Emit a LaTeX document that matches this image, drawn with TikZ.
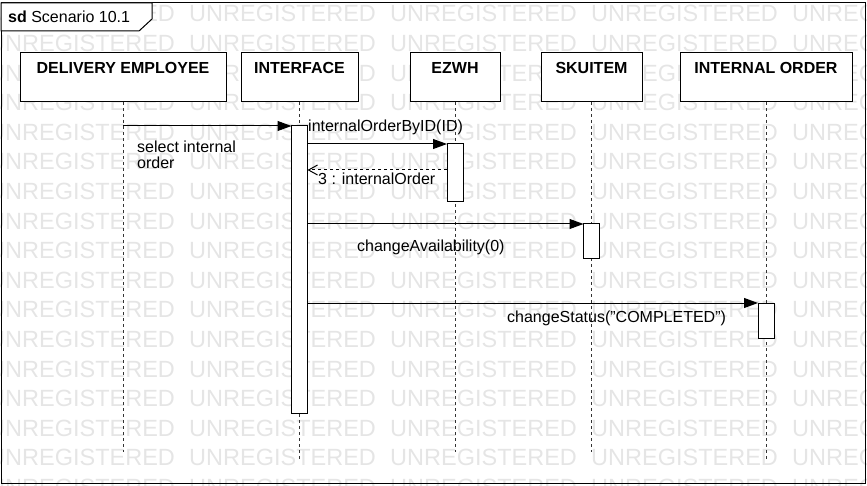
\documentclass[tikz,border=0pt]{standalone}
\usepackage{fontspec}
\setmainfont{Liberation Sans}
\usetikzlibrary{arrows.meta}

\begin{document}
\begin{tikzpicture}[
        x=1pt, y=-1pt,
        font=\fontsize{16}{16}\selectfont,
        wmtext/.style={black!10, anchor=base west, inner sep=0pt,
            font=\fontsize{23.5}{24}\selectfont},
        head/.style={draw=black, fill=white, line width=1pt, anchor=north,
            font=\fontsize{16}{16}\selectfont\bfseries, inner ysep=5pt,
            text height=16pt, text depth=23pt, minimum height=49pt, outer sep=0pt},
        act/.style={draw=black, fill=white, line width=1pt, anchor=north,
            minimum width=16pt, inner sep=0pt, outer sep=0pt},
        life/.style={black!80, line width=1pt, dash pattern=on 3pt off 3pt},
        msg/.style={black, line width=1pt, -{Triangle[length=14pt,width=10pt]}},
        ret/.style={black, line width=1pt, dash pattern=on 3pt off 3pt,
            -{Straight Barb[length=9pt,width=10pt]}},
        lbl/.style={inner sep=0pt, anchor=base west}
    ]
        \useasboundingbox (0,0) rectangle (867,486);

        % Marca de agua
        \begin{scope}
            \clip (0,0) rectangle (867,486);
            \foreach \row in {0,...,16}
                \foreach \col in {0,...,4}
                    \node[wmtext] at ({-12+201*\col}, {21.9+29.6*\row}) {UNREGISTERED};
        \end{scope}

        % Marco sd
        \draw[line width=1pt] (1,3) rectangle (865,483);
        \filldraw[fill=white, line width=1pt]
            (1,3) -- (152,3) -- (152,19) -- (139,31) -- (1,31) -- cycle;
        \node[lbl] (title) at (8,22.5) {\textbf{sd} Scenario 10.1};

        % Participantes
        \node[head, minimum width=206pt] (emp) at (123,53) {DELIVERY EMPLOYEE};
        \node[head, minimum width=117pt] (iface) at (299.5,53) {INTERFACE};
        \node[head, minimum width=90pt] (ezwh) at (455,53) {EZWH};
        \node[head, minimum width=101pt] (sku) at (591.5,53) {SKUITEM};
        \node[head, minimum width=172pt] (order) at (766,53) {INTERNAL ORDER};

        % Lineas de vida
        \draw[life] (emp.south) -- (emp.south |- 0,452);
        \draw[life] (iface.south) -- (iface.south |- 0,460);
        \draw[life] (ezwh.south) -- (ezwh.south |- 0,452);
        \draw[life] (sku.south) -- (sku.south |- 0,452);
        \draw[life] (order.south) -- (order.south |- 0,460);

        % Activaciones
        \node[act, minimum height=287pt] (aI) at (iface.south |- 0,126) {};
        \node[act, minimum height=58pt] (aE) at (ezwh.south |- 0,144) {};
        \node[act, minimum height=35pt] (aS) at (sku.south |- 0,224) {};
        \node[act, minimum height=35pt] (aO) at (order.south |- 0,303) {};

        % Mensajes
        \draw[msg] (emp.south |- aI.north) -- (aI.north west);
        \node[lbl, anchor=north west, align=left] (lsel)
            at (137,141) {select internal\\order};

        \draw[msg] (aI.east |- aE.north) -- (aE.north west);
        \node[lbl] (lfind) at (308,132) {internalOrderByID(ID)};

        \coordinate (back) at ([yshift=-26pt]aE.north west);
        \draw[ret] (back) -- (aI.east |- back);
        \node[lbl] (lret) at (318,185) {3 : internalOrder};

        \draw[msg] (aI.east |- aS.north) -- (aS.north west);
        \node[lbl] (lavail) at (357,252) {changeAvailability(0)};

        \draw[msg] (aI.east |- aO.north) -- (aO.north west);
        \node[lbl] (lstat) at (507,322) {changeStatus("COMPLETED")};

    \end{tikzpicture}
\end{document}
